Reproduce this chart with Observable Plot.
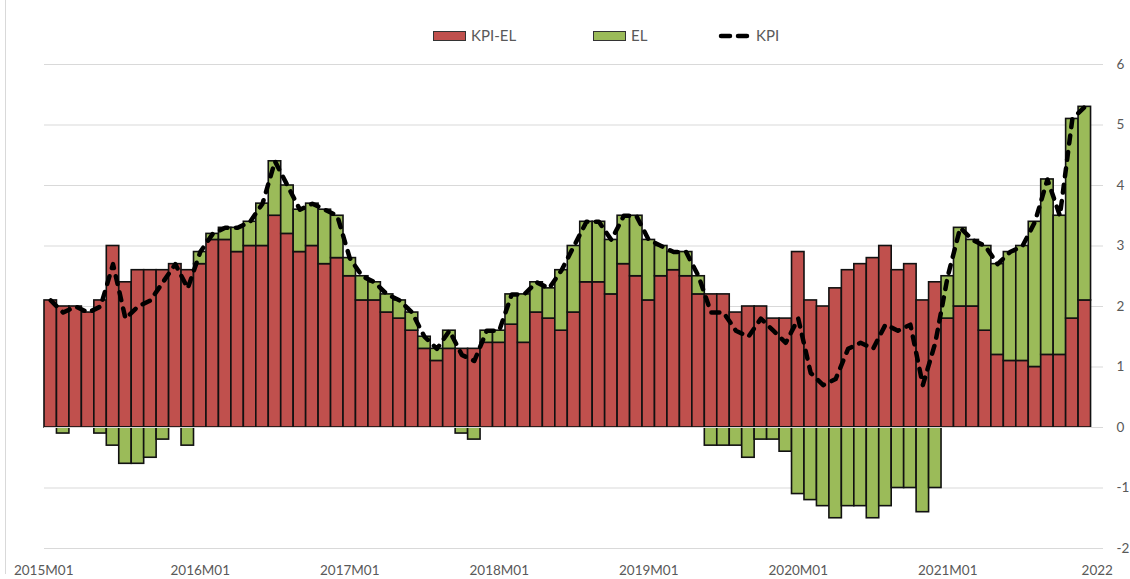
<!DOCTYPE html>
<html><head><meta charset="utf-8">
<script src="https://cdn.jsdelivr.net/npm/d3@7"></script>
<script src="https://cdn.jsdelivr.net/npm/@observablehq/plot@0.6"></script>
<style>
body{margin:0;background:#fff;}
#wrap{position:relative;width:1130px;height:579px;font-family:Lato,sans-serif;overflow:hidden;}
.sw{position:absolute;top:31px;width:33px;height:10px;box-sizing:border-box;border:1px solid #333;}
.lt{position:absolute;top:26px;font-size:15px;line-height:18px;color:#595959;white-space:nowrap;}
.border{position:absolute;left:5px;top:0;width:1px;height:574px;background:#d9d9d9;}
</style></head><body><div id="wrap"><div class="border"></div></div>
<script>
// Categories
const years = [2015, 2016, 2017, 2018, 2019, 2020, 2021];
const monthCodes = ["01","02","03","04","05","06","07","08","09","10","11","12"];
const months = years.flatMap(y => monthCodes.map(m => `${y}M${m}`)).concat(["2022M01"]);

// Series
const seriesNames = ["KPI-EL", "EL"];
const seriesColors = ["#c0504d", "#9bbb59"];

// KPI-EL (red bars)
const kpiEl = [
  2.1, 2.0, 2.0, 1.9, 2.1, 3.0, 2.4, 2.6, 2.6, 2.6, 2.7, 2.6,
  2.7, 3.1, 3.1, 2.9, 3.0, 3.0, 3.5, 3.2, 2.9, 3.0, 2.7, 2.8,
  2.5, 2.1, 2.1, 1.9, 1.8, 1.6, 1.3, 1.1, 1.3, 1.3, 1.3, 1.4,
  1.4, 1.7, 1.4, 1.9, 1.8, 1.6, 1.9, 2.4, 2.4, 2.2, 2.7, 2.5,
  2.1, 2.5, 2.6, 2.5, 2.2, 2.2, 2.2, 1.9, 2.0, 2.0, 1.8, 1.8,
  2.9, 2.1, 2.0, 2.3, 2.6, 2.7, 2.8, 3.0, 2.6, 2.7, 2.1, 2.4,
  1.8, 2.0, 2.0, 1.6, 1.2, 1.1, 1.1, 1.0, 1.2, 1.2, 1.8, 2.1
];
// EL (green bars)
const el = [
  0, -0.1, 0, 0, -0.1, -0.3, -0.6, -0.6, -0.5, -0.2, 0, -0.3,
  0.2, 0.1, 0.2, 0.4, 0.4, 0.7, 0.9, 0.8, 0.7, 0.7, 0.9, 0.7,
  0.3, 0.4, 0.3, 0.3, 0.3, 0.3, 0.2, 0.2, 0.3, -0.1, -0.2, 0.2,
  0.2, 0.5, 0.8, 0.5, 0.5, 1.0, 1.1, 1.0, 1.0, 0.9, 0.8, 1.0,
  1.0, 0.5, 0.3, 0.4, 0.3, -0.3, -0.3, -0.3, -0.5, -0.2, -0.2, -0.4,
  -1.1, -1.2, -1.3, -1.5, -1.3, -1.3, -1.5, -1.3, -1.0, -1.0, -1.4, -1.0,
  0.7, 1.3, 1.1, 1.4, 1.5, 1.8, 1.9, 2.4, 2.9, 2.3, 3.3, 3.2
];
// KPI (dashed line)
const kpi = [
  2.1, 1.9, 2.0, 1.9, 2.0, 2.7, 1.8, 2.0, 2.1, 2.4, 2.7, 2.3,
  2.9, 3.2, 3.3, 3.3, 3.4, 3.7, 4.4, 4.0, 3.6, 3.7, 3.6, 3.5,
  2.8, 2.5, 2.4, 2.2, 2.1, 1.9, 1.5, 1.3, 1.6, 1.2, 1.1, 1.6,
  1.6, 2.2, 2.2, 2.4, 2.3, 2.6, 3.0, 3.4, 3.4, 3.1, 3.5, 3.5,
  3.1, 3.0, 2.9, 2.9, 2.5, 1.9, 1.9, 1.6, 1.5, 1.8, 1.6, 1.4,
  1.8, 0.9, 0.7, 0.8, 1.3, 1.4, 1.3, 1.7, 1.6, 1.7, 0.7, 1.4,
  2.5, 3.3, 3.1, 3.0, 2.7, 2.9, 3.0, 3.4, 4.1, 3.5, 5.1, 5.3
];

// Axis ticks
const yTicks = [-2, -1, 0, 1, 2, 3, 4, 5, 6];
const xTicks = ["2016M01", "2017M01", "2018M01", "2019M01", "2020M01", "2021M01", "2022M01"];
const xFirstTick = ["2015M01"];

const barRows = [];
kpiEl.forEach((v, i) => {
  barRows.push({month: months[i], series: "KPI-EL", value: v});
  if (el[i] !== 0) barRows.push({month: months[i], series: "EL", value: el[i]});
});
const lineRows = kpi.map((v, i) => ({month: months[i], kpi: v}));

const textColor = "#595959";
const chart = Plot.plot({
  width: 1130,
  height: 579,
  marginTop: 64,
  marginBottom: 31,
  marginLeft: 44,
  marginRight: 27,
  style: {fontFamily: "Lato, sans-serif", fontSize: "13.5px", background: "transparent", color: textColor},
  x: {type: "band", domain: months, padding: 0, axis: null, label: null},
  y: {domain: [-2, 6], axis: null, label: null},
  color: {domain: seriesNames, range: seriesColors},
  marks: [
    Plot.gridY(yTicks, {stroke: "#d9d9d9", strokeOpacity: 1, strokeWidth: 1}),
    Plot.barY(barRows, {x: "month", y: "value", fill: "series", order: seriesNames, stroke: "#111", strokeWidth: 1.6}),
    Plot.ruleY([0], {stroke: "#d9d9d9", strokeWidth: 1}),
    Plot.line(lineRows, {x: "month", y: "kpi", stroke: "#000", strokeWidth: 4.5, strokeDasharray: "8,8.5", strokeLinecap: "round", strokeLinejoin: "round"}),
    Plot.axisY(yTicks, {anchor: "right", label: null, tickSize: 0, tickPadding: 13, fill: textColor, fontSize: 13.5, tickFormat: d => String(d)}),
    Plot.axisX(xTicks, {anchor: "bottom", label: null, tickSize: 0, tickPadding: 17, fill: textColor, fontSize: 13.5, tickFormat: d => d === "2022M01" ? "2022" : d}),
    Plot.axisX(xFirstTick, {anchor: "bottom", label: null, tickSize: 0, tickPadding: 17, fill: textColor, fontSize: 13.5, dx: -7})
  ]
});
const wrap = document.getElementById("wrap");
chart.style.position = "absolute";
chart.style.left = "0";
chart.style.top = "0";
wrap.appendChild(chart);

// Legend
const legendItems = [
  {label: seriesNames[0], kind: "swatch", color: seriesColors[0], x: 433},
  {label: seriesNames[1], kind: "swatch", color: seriesColors[1], x: 593},
  {label: "KPI", kind: "line", color: "#000", x: 718}
];
legendItems.forEach(it => {
  if (it.kind === "swatch") {
    const s = document.createElement("div");
    s.className = "sw";
    s.style.left = it.x + "px";
    s.style.background = it.color;
    wrap.appendChild(s);
    const t = document.createElement("div");
    t.className = "lt";
    t.style.left = (it.x + 38) + "px";
    t.textContent = it.label;
    wrap.appendChild(t);
  } else {
    const ns = "http://www.w3.org/2000/svg";
    const svg = document.createElementNS(ns, "svg");
    svg.setAttribute("width", 40);
    svg.setAttribute("height", 12);
    svg.style.position = "absolute";
    svg.style.left = it.x + "px";
    svg.style.top = "30px";
    const ln = document.createElementNS(ns, "line");
    ln.setAttribute("x1", 3); ln.setAttribute("x2", 36);
    ln.setAttribute("y1", 6); ln.setAttribute("y2", 6);
    ln.setAttribute("stroke", it.color);
    ln.setAttribute("stroke-width", 4.5);
    ln.setAttribute("stroke-linecap", "round");
    ln.setAttribute("stroke-dasharray", "9,8");
    svg.appendChild(ln);
    wrap.appendChild(svg);
    const t = document.createElement("div");
    t.className = "lt";
    t.style.left = (it.x + 38) + "px";
    t.textContent = it.label;
    wrap.appendChild(t);
  }
});
</script>
</body></html>
